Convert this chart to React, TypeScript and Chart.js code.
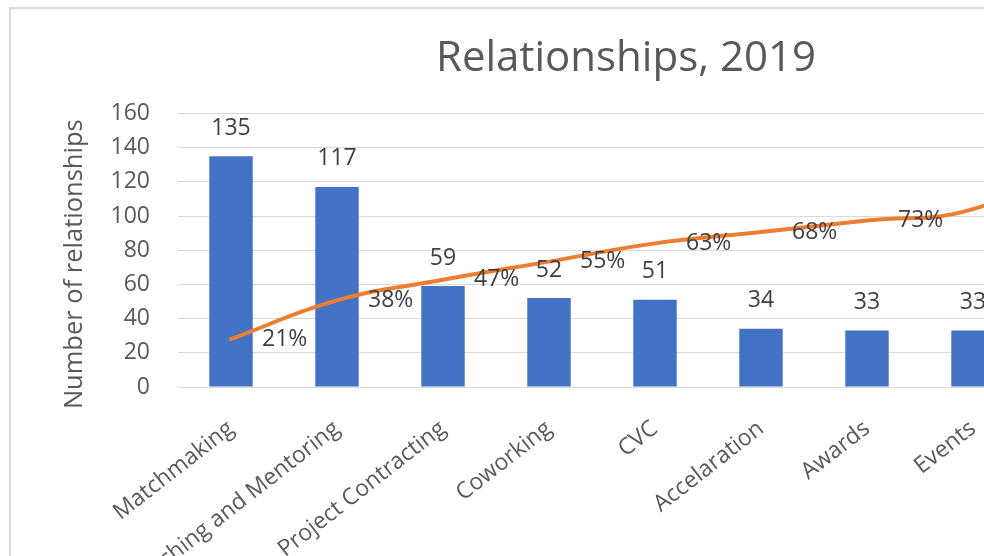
import React, { useEffect, useRef } from "react";
import { Chart, registerables } from "chart.js";

Chart.register(...registerables);

const categories = [
  "Matchmaking",
  "Coaching and Mentoring",
  "Project Contracting",
  "Coworking",
  "CVC",
  "Accelaration",
  "Awards",
  "Events",
  "Other",
];
const relationships = [135, 117, 59, 52, 51, 34, 33, 33, 145];
const cumulativePct = [21, 38, 47, 55, 63, 68, 73, 78, 100];
const yTicks = [0, 20, 40, 60, 80, 100, 120, 140, 160];
const yTitle = "Number of relationships";

const W = 1230;
const H = 640;
const PAD_L = 49;
const AREA_L = 167;
const AREA_R = 1121;

const labelPlugin = {
  id: "dataLabels",
  afterDatasetsDraw(chart: any) {
    const ctx = chart.ctx;
    ctx.save();
    ctx.font = '23px "Open Sans"';
    ctx.fillStyle = "#404040";
    ctx.textBaseline = "middle";
    const barMeta = chart.getDatasetMeta(0);
    barMeta.data.forEach((el: any, i: number) => {
      ctx.textAlign = "center";
      ctx.fillText(String(relationships[i]), el.x, el.y - 28);
    });
    const lineMeta = chart.getDatasetMeta(1);
    lineMeta.data.forEach((el: any, i: number) => {
      ctx.textAlign = "left";
      ctx.fillText(cumulativePct[i] + "%", el.x + 31, el.y);
    });
    ctx.restore();
  },
  afterDraw(chart: any) {
    const ctx = chart.ctx;
    const area = chart.chartArea;
    ctx.save();
    ctx.font = '25.5px "Open Sans"';
    ctx.fillStyle = "#595959";
    ctx.textAlign = "center";
    ctx.textBaseline = "middle";
    ctx.translate(64, (area.top + area.bottom) / 2 + 14);
    ctx.rotate(-Math.PI / 2);
    ctx.fillText(yTitle, 0, 0);
    ctx.restore();
  },
};

export default function App() {
  const ref = useRef<HTMLCanvasElement>(null);
  useEffect(() => {
    if (!ref.current) return;
    Chart.defaults.font.family = '"Open Sans"';
    const chart = new Chart(ref.current, {
      type: "bar",
      data: {
        labels: categories,
        datasets: [
          {
            type: "bar",
            data: relationships,
            backgroundColor: "#4472C4",
            categoryPercentage: 1,
            barPercentage: 0.41,
            order: 1,
            yAxisID: "y",
          } as any,
          {
            type: "line",
            data: cumulativePct,
            borderColor: "#ED7D31",
            borderWidth: 4,
            pointRadius: 0,
            tension: 0.45,
            order: 0,
            yAxisID: "y1",
            borderCapStyle: "round",
          } as any,
        ],
      },
      options: {
        responsive: false,
        animation: false,
        devicePixelRatio: 1,
        layout: { padding: { left: PAD_L, right: PAD_L, top: 0, bottom: 0 } },
        plugins: {
          legend: { display: false },
          tooltip: { enabled: false },
          title: {
            display: true,
            text: "Relationships, 2019",
            color: "#595959",
            font: { size: 42, weight: "normal", lineHeight: 1.2 },
            padding: { top: 25, bottom: 29 },
          },
        },
        scales: {
          x: {
            grid: { display: false },
            border: { display: true, color: "#d9d9d9", width: 1 },
            ticks: {
              color: "#595959",
              font: { size: 23 },
              minRotation: 38,
              maxRotation: 38,
              autoSkip: false,
              padding: 20,
            },
            afterFit: (s: any) => {
              s.height = H - 378;
            },
          },
          y: {
            min: 0,
            max: 160,
            afterBuildTicks: (s: any) => {
              s.ticks = yTicks.map((v) => ({ value: v }));
            },
            grid: { color: "#d9d9d9", drawTicks: false },
            border: { display: false },
            ticks: { color: "#595959", font: { size: 23 }, padding: 28 },
            title: { display: false },
            afterFit: (s: any) => {
              s.width = AREA_L - PAD_L;
            },
          },
          y1: {
            display: true,
            min: 0,
            max: 120,
            position: "right",
            grid: { display: false },
            border: { display: false },
            ticks: { display: false },
            afterFit: (s: any) => {
              s.width = W - PAD_L - AREA_R;
            },
          },
        },
      },
      plugins: [labelPlugin],
    });
    return () => chart.destroy();
  }, []);

  return (
    <div
      style={{
        position: "fixed",
        left: 0,
        top: 0,
        width: 984,
        height: 556,
        overflow: "hidden",
        background: "#fff",
      }}
    >
      <div
        style={{
          position: "absolute",
          left: 9,
          top: 7,
          width: W,
          height: H,
          border: "2px solid #dcdcdc",
        }}
      >
        <canvas ref={ref} width={W} height={H} style={{ display: "block" }} />
      </div>
    </div>
  );
}
